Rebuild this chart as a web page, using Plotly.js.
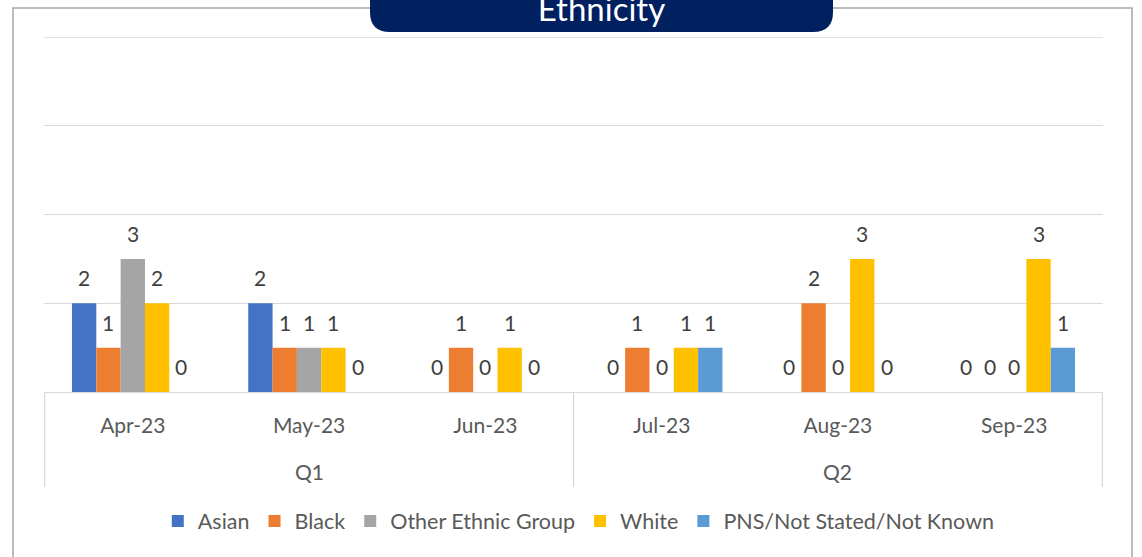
<!DOCTYPE html>
<html><head><meta charset="utf-8">
<script src="https://cdn.plot.ly/plotly-3.0.1.min.js"></script>
<style>html,body{margin:0;padding:0;background:#fff}#chart{width:1142px;height:557px}</style>
</head><body><div id="chart"></div>
<script>
const months = ['Apr-23','May-23','Jun-23','Jul-23','Aug-23','Sep-23'];
const quarters = ['Q1','Q1','Q1','Q2','Q2','Q2'];
const seriesNames = ['Asian','Black','Other Ethnic Group','White','PNS/Not Stated/Not Known'];
const asian = [2,2,0,0,0,0];
const black = [1,1,1,1,2,0];
const otherEthnic = [3,1,0,0,0,0];
const white = [2,1,1,1,3,3];
const pns = [0,0,0,1,0,1];
const colors = ['#4472C4','#ED7D31','#A5A5A5','#FFC000','#5B9BD5'];
const seriesValues = [asian, black, otherEthnic, white, pns];
const Y_MAX = 8;

const FONT = 'Lato, "Open Sans", sans-serif';
const BARGAP = 0.31;
const nS = seriesValues.length;

const traces = seriesValues.map((vals, i) => ({
  type: 'bar',
  name: seriesNames[i],
  x: months,
  y: vals,
  marker: {color: colors[i], line: {width: 0}},
  hoverinfo: 'skip'
}));

// data labels placed above each bar (through the axis scales)
const annotations = [];
const bw = (1 - BARGAP) / nS;
seriesValues.forEach((vals, k) => {
  vals.forEach((v, i) => {
    annotations.push({
      xref: 'x', yref: 'y', x: i - (1 - BARGAP) / 2 + bw * (k + 0.5), y: v,
      text: String(v), showarrow: false, yanchor: 'bottom', xanchor: 'center', yshift: 11,
      font: {family: FONT, size: 21, color: '#404040'}
    });
  });
});

// pixel helpers for decoration (plot area: l=44, r=39, t=37, b=165)
const L = 44, T = 37, W = 1142 - 44 - 39, H = 557 - 37 - 165;
const px = v => (v - L) / W;
const py = v => (T + H - v) / H;

// quarter group labels and dividers
const shapes = [];
const groups = [];
quarters.forEach((q, i) => {
  if (!groups.length || groups[groups.length - 1].name !== q) groups.push({name: q, start: i, end: i});
  else groups[groups.length - 1].end = i;
});
groups.forEach((g, gi) => {
  annotations.push({xref: 'x', yref: 'paper', x: (g.start + g.end) / 2, y: py(471), yanchor: 'middle',
    text: g.name, showarrow: false, font: {family: FONT, size: 21, color: '#595959'}});
  shapes.push({type: 'line', xref: 'x', yref: 'paper', x0: g.start - 0.5, x1: g.start - 0.5, y0: 0, y1: py(487),
    line: {color: '#d9d9d9', width: 1.3}});
  if (gi === groups.length - 1) {
    shapes.push({type: 'line', xref: 'x', yref: 'paper', x0: g.end + 0.5, x1: g.end + 0.5, y0: 0, y1: py(487),
      line: {color: '#d9d9d9', width: 1.3}});
  }
});

// top gridline at the axis maximum
shapes.push({type: 'line', xref: 'paper', yref: 'y', x0: 0, x1: 1, y0: Y_MAX, y1: Y_MAX,
  line: {color: '#d9d9d9', width: 1.3}, layer: 'below'});

const pill = (() => {
  const x0 = 370, x1 = 833, y0 = -40, y1 = 32, r = 20;
  return `M ${px(x0)},${py(y0)} L ${px(x0)},${py(y1 - r)} Q ${px(x0)},${py(y1)} ${px(x0 + r)},${py(y1)} ` +
         `L ${px(x1 - r)},${py(y1)} Q ${px(x1)},${py(y1)} ${px(x1)},${py(y1 - r)} L ${px(x1)},${py(y0)} Z`;
})();

shapes.unshift({type: 'rect', xref: 'paper', yref: 'paper', x0: px(13), x1: px(1132), y0: py(600), y1: py(8),
  line: {color: '#a6a6a6', width: 1.5}, fillcolor: 'rgba(0,0,0,0)', layer: 'below'});
shapes.push({type: 'path', xref: 'paper', yref: 'paper', path: pill, fillcolor: '#002060', line: {width: 0}, layer: 'above'});

const layout = {
  width: 1142, height: 557,
  margin: {l: L, r: 39, t: T, b: 165},
  paper_bgcolor: '#ffffff', plot_bgcolor: '#ffffff',
  font: {family: FONT, color: '#595959'},
  barmode: 'group', bargap: BARGAP, bargroupgap: 0,
  title: {text: 'Ethnicity', font: {family: FONT, size: 33, color: '#ffffff'},
          x: 0.5267, xanchor: 'center', xref: 'container', y: 1 - 21/557, yanchor: 'bottom', yref: 'container'},
  xaxis: {type: 'category', showgrid: false, showline: true, linecolor: '#d9d9d9', linewidth: 1.3,
          ticks: '', ticklabelstandoff: 14,
          tickfont: {family: FONT, size: 21, color: '#595959'}, fixedrange: true},
  yaxis: {range: [0, Y_MAX], dtick: 2, tick0: 0, showticklabels: false, showgrid: true, gridcolor: '#d9d9d9',
          gridwidth: 1.3, zeroline: false, ticks: '', fixedrange: true},
  showlegend: true,
  legend: {orientation: 'h', x: 0.505, xanchor: 'center', y: py(521), yanchor: 'middle',
           font: {family: FONT, size: 21.5, color: '#595959'}, itemclick: false, itemdoubleclick: false,
           traceorder: 'normal'},
  annotations: annotations,
  shapes: shapes
};

Plotly.newPlot('chart', traces, layout, {displayModeBar: false, staticPlot: true});
</script></body></html>
